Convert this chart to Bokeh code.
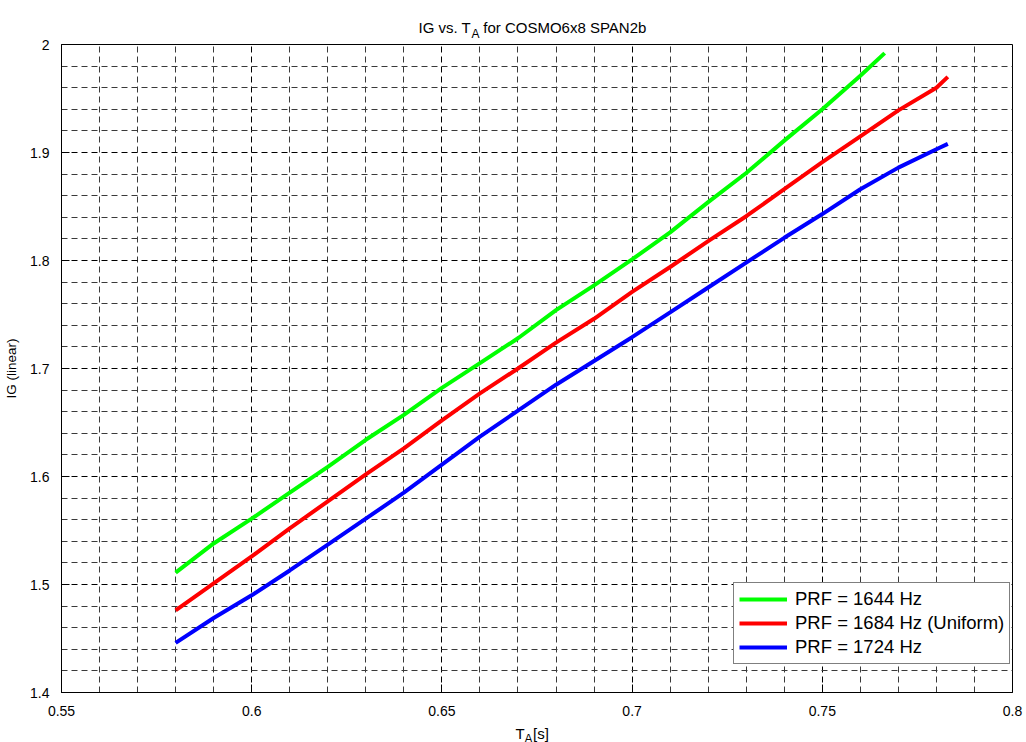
from bokeh.plotting import figure
from bokeh.models import FixedTicker, Label, Legend, LegendItem, Range1d, CustomJSTickFormatter
from bokeh.embed import file_html
from bokeh.resources import INLINE

# ---- data ----
ta_1644 = [0.58, 0.59, 0.60, 0.61, 0.62, 0.63, 0.64, 0.65, 0.66, 0.67, 0.68, 0.69,
           0.70, 0.71, 0.72, 0.73, 0.74, 0.75, 0.76, 0.7664]
ig_1644 = [1.511, 1.538, 1.561, 1.585, 1.609, 1.634, 1.657, 1.682, 1.705, 1.728, 1.754, 1.777,
           1.801, 1.826, 1.854, 1.881, 1.911, 1.940, 1.971, 1.992]

ta_1684 = [0.58, 0.59, 0.60, 0.61, 0.62, 0.63, 0.64, 0.65, 0.66, 0.67, 0.68, 0.69,
           0.70, 0.71, 0.72, 0.73, 0.74, 0.75, 0.76, 0.77, 0.78, 0.783]
ig_1684 = [1.476, 1.501, 1.526, 1.552, 1.577, 1.602, 1.626, 1.652, 1.677, 1.700, 1.724, 1.746,
           1.771, 1.794, 1.818, 1.841, 1.866, 1.891, 1.915, 1.939, 1.960, 1.970]

ta_1724 = [0.58, 0.59, 0.60, 0.61, 0.62, 0.63, 0.64, 0.65, 0.66, 0.67, 0.68, 0.69,
           0.70, 0.71, 0.72, 0.73, 0.74, 0.75, 0.76, 0.77, 0.78, 0.783]
ig_1724 = [1.446, 1.469, 1.490, 1.513, 1.537, 1.561, 1.585, 1.611, 1.637, 1.661, 1.685, 1.707,
           1.729, 1.752, 1.775, 1.798, 1.821, 1.843, 1.866, 1.886, 1.903, 1.908]

series_labels = ["PRF = 1644 Hz", "PRF = 1684 Hz (Uniform)", "PRF = 1724 Hz"]

x_ticks = [0.55, 0.6, 0.65, 0.7, 0.75, 0.8]
x_tick_labels = ["0.55", "0.6", "0.65", "0.7", "0.75", "0.8"]
y_ticks = [1.4, 1.5, 1.6, 1.7, 1.8, 1.9, 2.0]
y_tick_labels = ["1.4", "1.5", "1.6", "1.7", "1.8", "1.9", "2"]
x_minor = [round(0.55 + 0.01 * i, 4) for i in range(26) if i % 5 != 0]
y_minor = [round(1.4 + 0.02 * i, 4) for i in range(31) if i % 5 != 0]

FONT = "Liberation Sans"

p = figure(width=1026, height=742, output_backend="svg", toolbar_location=None,
           x_range=Range1d(0.55, 0.8), y_range=Range1d(1.4, 2.0),
           min_border_left=61, min_border_right=14, min_border_top=44, min_border_bottom=50,
           title=None)
p.background_fill_color = "white"
p.border_fill_color = "white"
p.outline_line_color = "black"
p.outline_line_width = 1

fmt_code = """
const i = tv.findIndex(t => Math.abs(t - tick) < 1e-9);
return i >= 0 ? labs[i] : '';
"""
p.xaxis.ticker = FixedTicker(ticks=x_ticks, minor_ticks=x_minor)
p.yaxis.ticker = FixedTicker(ticks=y_ticks, minor_ticks=y_minor)
p.xaxis.formatter = CustomJSTickFormatter(args=dict(tv=x_ticks, labs=x_tick_labels), code=fmt_code)
p.yaxis.formatter = CustomJSTickFormatter(args=dict(tv=y_ticks, labs=y_tick_labels), code=fmt_code)

for ax in (p.xaxis, p.yaxis):
    ax.axis_line_color = "black"
    ax.major_tick_line_color = "black"
    ax.major_tick_in = 8
    ax.major_tick_out = 0
    ax.minor_tick_line_color = None
    ax.major_label_text_font = FONT
    ax.major_label_text_font_size = "14px"
    ax.major_label_text_color = "black"
p.xaxis.major_label_standoff = 9
p.yaxis.major_label_standoff = 8

p.yaxis.axis_label = "IG (linear)"
p.yaxis.axis_label_text_font = FONT
p.yaxis.axis_label_text_font_size = "13.5px"
p.yaxis.axis_label_text_font_style = "normal"
p.yaxis.axis_label_text_color = "black"
p.yaxis.axis_label_standoff = 8

for g in (p.xgrid, p.ygrid):
    g.grid_line_color = "black"
    g.grid_line_dash = "6 4"
    g.grid_line_width = 1
    g.minor_grid_line_color = "#3a3a3a"
    g.minor_grid_line_dash = "6 4"
    g.minor_grid_line_width = 1

r1 = p.line(ta_1644, ig_1644, line_color="#00ff00", line_width=4)
r2 = p.line(ta_1684, ig_1684, line_color="#ff0000", line_width=4)
r3 = p.line(ta_1724, ig_1724, line_color="#0000ff", line_width=4)

legend = Legend(items=[LegendItem(label=series_labels[0], renderers=[r1]),
                       LegendItem(label=series_labels[1], renderers=[r2]),
                       LegendItem(label=series_labels[2], renderers=[r3])],
                location=(672, 28))
legend.label_text_font = FONT
legend.label_text_font_size = "18.5px"
legend.label_text_color = "black"
legend.glyph_width = 48
legend.glyph_height = 20
legend.label_height = 20
legend.label_standoff = 8
legend.padding = 5
legend.spacing = 2
legend.margin = 0
legend.border_line_color = "black"
legend.border_line_width = 1
legend.background_fill_color = "white"
legend.background_fill_alpha = 1
p.add_layout(legend)

def lab(x, y, t, size, side):
    # canvas coordinates (y from top); side panels are not clipped to the frame
    p.add_layout(Label(x=x, y=y, x_units="canvas", y_units="canvas", text=t,
                       text_font=FONT, text_font_size=size, text_color="black",
                       text_align="left", text_baseline="alphabetic"), side)

# title (with subscript)
lab(418, 27, "IG vs. T\u00a0\u00a0\u00a0for COSMO6x8 SPAN2b", "15px", "above")
lab(471, 33, "A", "12px", "right")
# x-axis label (with subscript)
lab(515, 733, "T\u00a0\u00a0[s]", "15px", "below")
lab(524, 738, "A", "12px", "above")

open("out.html", "w").write(file_html(p, INLINE))
